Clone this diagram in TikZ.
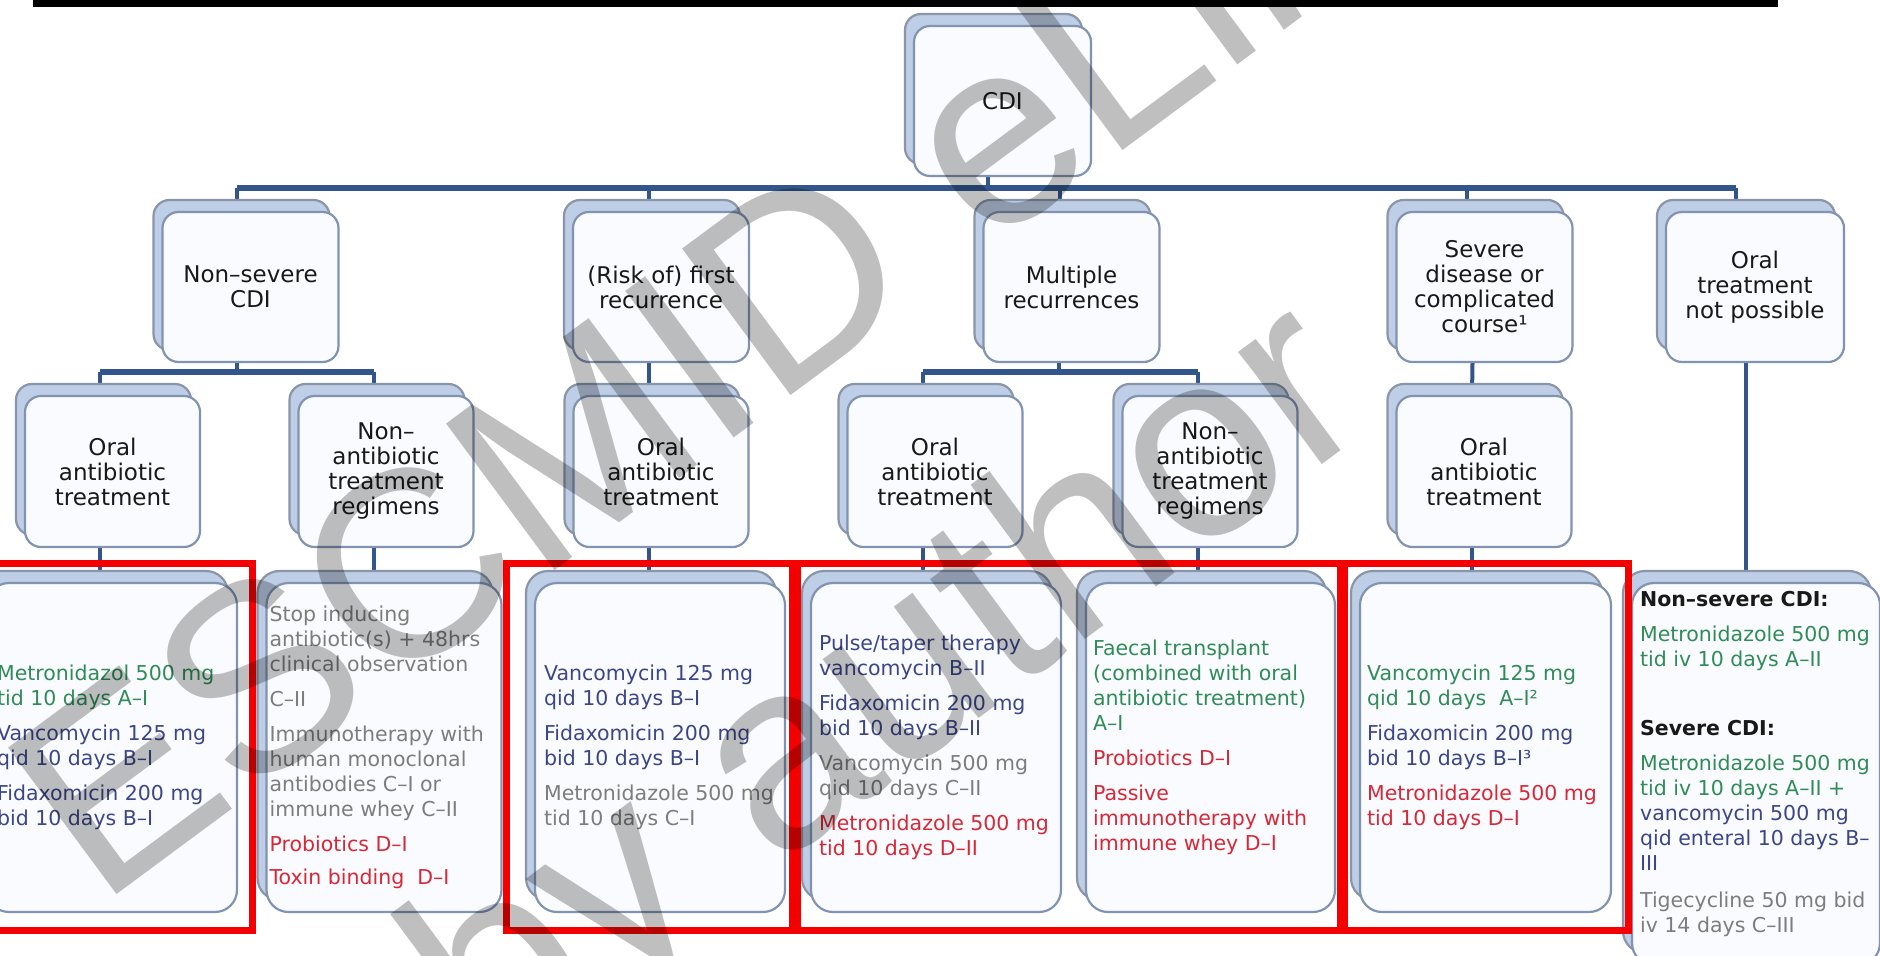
\documentclass[tikz,border=0pt]{standalone}
\usepackage{fontspec}
\setmainfont{DejaVu Sans}
\newfontfamily\wmfont{Liberation Sans}
\definecolor{fdraw}{RGB}{128,148,178}
\definecolor{ffill}{RGB}{250,251,254}
\definecolor{bdraw}{RGB}{138,150,168}
\definecolor{bfill}{RGB}{190,206,230}
\definecolor{busc}{RGB}{50,86,140}
\definecolor{framec}{RGB}{245,0,0}
\definecolor{ttext}{RGB}{25,25,25}
\definecolor{tgreen}{RGB}{48,140,86}
\definecolor{tnavy}{RGB}{60,70,135}
\definecolor{tgray}{RGB}{125,125,125}
\definecolor{tred}{RGB}{215,40,55}
\newcommand{\cGreen}[1]{\textcolor{tgreen}{#1}}
\newcommand{\cNavy}[1]{\textcolor{tnavy}{#1}}
\newcommand{\cGray}[1]{\textcolor{tgray}{#1}}
\newcommand{\cRed}[1]{\textcolor{tred}{#1}}
\newcommand{\cHead}[1]{\textcolor{ttext}{\bfseries #1}}
\pgfdeclarelayer{bg}
\pgfsetlayers{bg,main}
\begin{document}
\begin{tikzpicture}[x=1pt,y=-1pt,
  lvl/.style={rectangle, rounded corners=16pt, draw=fdraw, line width=2.2pt, fill=ffill,
    preaction={draw=bdraw, fill=bfill, line width=2.2pt, transform canvas={xshift=-9pt, yshift=12pt}},
    minimum width=176pt, minimum height=150pt, inner sep=0pt, align=center, text=ttext,
    font=\fontsize{23}{25}\selectfont},
  leaf/.style={lvl, rounded corners=22pt, minimum height=329pt},
  txt/.style={anchor=west, inner sep=0pt, align=left, font=\fontsize{20.5}{25}\selectfont},
  bus/.style={draw=busc, line width=5.5pt},
  tick/.style={draw=busc, line width=4pt},
  frame/.style={draw=framec, line width=7pt},
  wm/.style={anchor=base west, inner sep=0pt, rotate=36.5, text=black, text opacity=0.25,
    font=\wmfont\fontsize{265}{270}\selectfont}
]
\useasboundingbox (0,0) rectangle (1880,956);
\clip (0,0) rectangle (1880,956);

% top rule
\fill[black] (33,0) rectangle (1778,7);

% level 1 and 2
\node[lvl, minimum width=177pt] (cdi) at (1002.5,101) {CDI};
\node[lvl] (ns) at (250.5,287) {Non–severe\\CDI};
\node[lvl] (risk) at (661,287) {(Risk of) first\\recurrence};
\node[lvl] (mult) at (1071.5,287) {Multiple\\recurrences};
\node[lvl] (sev) at (1484.5,287) {Severe\\disease or\\complicated\\course¹};
\node[lvl, minimum width=178pt] (onp) at (1755,287) {Oral\\treatment\\not possible};

% level 3
\node[lvl, minimum width=175pt, minimum height=151pt] (nsoral) at (112.5,471.5) {Oral\\antibiotic\\treatment};
\node[lvl, minimum width=175pt, minimum height=151pt] (nsnon) at (386,471.5) {Non–\\antibiotic\\treatment\\regimens};
\node[lvl, minimum width=175pt, minimum height=151pt] (riskoral) at (661,471.5) {Oral\\antibiotic\\treatment};
\node[lvl, minimum width=175pt, minimum height=151pt] (multoral) at (935,471.5) {Oral\\antibiotic\\treatment};
\node[lvl, minimum width=175pt, minimum height=151pt] (multnon) at (1210,471.5) {Non–\\antibiotic\\treatment\\regimens};
\node[lvl, minimum width=175pt, minimum height=151pt] (sevoral) at (1484,471.5) {Oral\\antibiotic\\treatment};

% level 4 boxes
\node[leaf, minimum width=250pt] (boxA) at (112,747.5) {};
\node[leaf, minimum width=235pt] (boxB) at (384,747.5) {};
\node[leaf, minimum width=250pt] (boxC) at (660,747.5) {};
\node[leaf, minimum width=250pt] (boxD) at (936,747.5) {};
\node[leaf, minimum width=249pt] (boxE) at (1210.5,747.5) {};
\node[leaf, minimum width=251pt] (boxF) at (1485.5,747.5) {};
\node[leaf, minimum width=248pt, minimum height=382pt] (boxG) at (1756,774) {};

% level 4 texts
\node[txt] (tA) at ([xshift=11pt]boxA.west) {\cGreen{Metronidazol 500 mg}\\\cGreen{tid 10 days A–I}\\[10pt]\cNavy{Vancomycin 125 mg}\\\cNavy{qid 10 days B–I}\\[10pt]\cNavy{Fidaxomicin 200 mg}\\\cNavy{bid 10 days B–I}};
\node[txt] (tB) at ([xshift=4pt]boxB.west) {\cGray{Stop inducing}\\\cGray{antibiotic(s) + 48hrs}\\\cGray{clinical observation}\\[10pt]\cGray{C–II}\\[10pt]\cGray{Immunotherapy with}\\\cGray{human monoclonal}\\\cGray{antibodies C–I or}\\\cGray{immune whey C–II}\\[10pt]\cRed{Probiotics D–I}\\[8pt]\cRed{Toxin binding~ D–I}};
\node[txt] (tC) at ([xshift=10pt]boxC.west) {\cNavy{Vancomycin 125 mg}\\\cNavy{qid 10 days B–I}\\[10pt]\cNavy{Fidaxomicin 200 mg}\\\cNavy{bid 10 days B–I}\\[10pt]\cGray{Metronidazole 500 mg}\\\cGray{tid 10 days C–I}};
\node[txt] (tD) at ([xshift=9pt]boxD.west) {\cNavy{Pulse/taper therapy}\\\cNavy{vancomycin B–II}\\[10pt]\cNavy{Fidaxomicin 200 mg}\\\cNavy{bid 10 days B–II}\\[10pt]\cGray{Vancomycin 500 mg}\\\cGray{qid 10 days C–II}\\[10pt]\cRed{Metronidazole 500 mg}\\\cRed{tid 10 days D–II}};
\node[txt] (tE) at ([xshift=8pt]boxE.west) {\cGreen{Faecal transplant}\\\cGreen{(combined with oral}\\\cGreen{antibiotic treatment)}\\\cGreen{A–I}\\[10pt]\cRed{Probiotics D–I}\\[10pt]\cRed{Passive}\\\cRed{immunotherapy with}\\\cRed{immune whey D–I}};
\node[txt] (tF) at ([xshift=8pt]boxF.west) {\cGreen{Vancomycin 125 mg}\\\cGreen{qid 10 days~ A–I²}\\[10pt]\cNavy{Fidaxomicin 200 mg}\\\cNavy{bid 10 days B–I³}\\[10pt]\cRed{Metronidazole 500 mg}\\\cRed{tid 10 days D–I}};
\node[txt] (tG) at ([xshift=9pt,yshift=10pt]boxG.west) {\cHead{Non–severe CDI:}\\[10pt]\cGreen{Metronidazole 500 mg}\\\cGreen{tid iv 10 days A–II}\\[44pt]\cHead{Severe CDI:}\\[10pt]\cGreen{Metronidazole 500 mg}\\\cGreen{tid iv 10 days A–II +}\\\cNavy{vancomycin 500 mg}\\\cNavy{qid enteral 10 days B–}\\\cNavy{III}\\[12pt]\cGray{Tigecycline 50 mg bid}\\\cGray{iv 14 days C–III}};

% connectors
\begin{pgfonlayer}{bg}
\fill[white] (0,0) rectangle (1880,956);
\coordinate (bus1) at (0,188);
\coordinate (bus2) at (0,372);
\coordinate (cdiB) at ([xshift=-15pt]cdi.south);
\coordinate (nsT) at ([xshift=-14pt]ns.north);
\coordinate (riskT) at ([xshift=-12pt]risk.north);
\coordinate (multT) at ([xshift=-12pt]mult.north);
\coordinate (sevT) at ([xshift=-18pt]sev.north);
\coordinate (onpT) at ([xshift=-19pt]onp.north);
\draw[bus] (nsT |- bus1) -- (onpT |- bus1);
\draw[tick] (cdiB) -- (cdiB |- bus1);
\foreach \n in {nsT,riskT,multT,sevT,onpT} \draw[tick] (\n |- bus1) -- (\n);
% non-severe
\coordinate (nsB) at ([xshift=-14pt]ns.south);
\coordinate (nsoT) at ([xshift=-12.5pt]nsoral.north);
\coordinate (nsnT) at ([xshift=-12.5pt]nsnon.north);
\draw[tick] (nsB) -- (nsB |- bus2);
\draw[bus] (nsoT |- bus2) -- (nsnT |- bus2);
\draw[tick] (nsoT |- bus2) -- (nsoT);
\draw[tick] (nsnT |- bus2) -- (nsnT);
% risk
\draw[tick] ([xshift=-12pt]risk.south) -- ([xshift=-12pt]riskoral.north);
% multiple
\coordinate (multB) at ([xshift=-12.5pt]mult.south);
\coordinate (muoT) at ([xshift=-12.5pt]multoral.north);
\coordinate (munT) at ([xshift=-12.5pt]multnon.north);
\draw[tick] (multB) -- (multB |- bus2);
\draw[bus] (muoT |- bus2) -- (munT |- bus2);
\draw[tick] (muoT |- bus2) -- (muoT);
\draw[tick] (munT |- bus2) -- (munT);
% severe
\draw[tick] ([xshift=-12pt]sev.south) -- ([xshift=-12pt]sevoral.north);
% oral not possible
\coordinate (onpB) at ([xshift=-9pt]onp.south);
\draw[tick] (onpB) -- (onpB |- boxG.north);
% level 3 to level 4
\foreach \a/\b in {nsoral/boxA, nsnon/boxB, riskoral/boxC, multoral/boxD, multnon/boxE, sevoral/boxF}{
  \coordinate (tk) at ([xshift=-12.5pt]\a.south);
  \draw[tick] (tk) -- (tk |- \b.north);
}
\end{pgfonlayer}

% red frames
\draw[frame] (-10,563) rectangle (252,930);
\draw[frame] (506,563) rectangle (792,930);
\draw[frame] (797,563) rectangle (1340,930);
\draw[frame] (1344,563) rectangle (1628,930);

% watermark
\node[wm] (wm1) at (99,908) {ESCMID eLibrary};
\node[wm] (wm2) at (490,1080) {by author};
\end{tikzpicture}
\end{document}
